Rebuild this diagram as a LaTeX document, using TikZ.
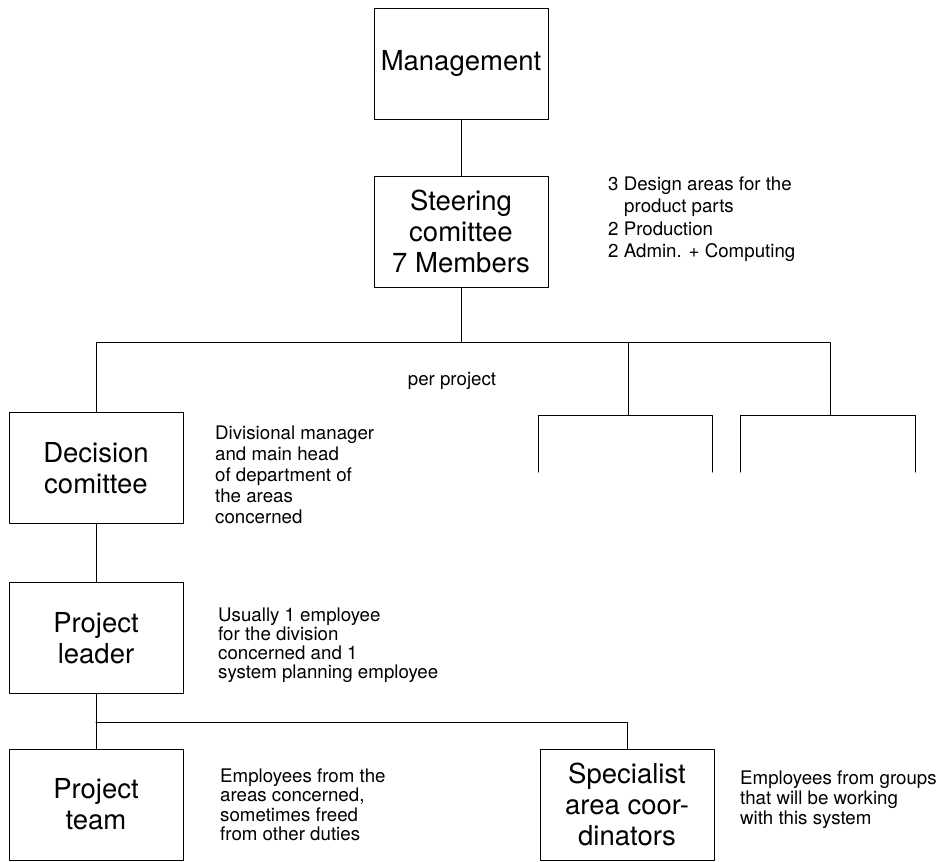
\documentclass[tikz,border=0pt]{standalone}
\usepackage{fontspec}
\setmainfont{TeX Gyre Heros}

\newcommand{\boxfont}{\fontsize{27.5}{31}\selectfont}
\newcommand{\notefont}{\fontsize{18.7}{20}\selectfont}

\tikzset{
  unit/.style={draw, line width=1pt, minimum width=174pt, minimum height=111pt,
    align=center, font=\boxfont},
  remark/.style={anchor=west, align=left, inner sep=0pt, font=\notefont},
  link/.style={line width=1pt},
}

\begin{document}
\begin{tikzpicture}[x=1pt, y=-1pt, line cap=round, line join=round]
    \useasboundingbox (0,0) rectangle (945,862);

    % Boxes of the hierarchy
    \node[unit] (mgmt)  at (461,63.5)  {Management};
    \node[unit] (steer) at (461,231.5) {Steering\\comittee\\7 Members};
    \node[unit] (dec)   at (96,468)    {Decision\\comittee};
    \node[unit] (lead)  at (96,638)    {Project\\leader};
    \node[unit] (team)  at (96,804.5)  {Project\\team};
    \node[unit] (spec)  at (627,804.5) {Specialist\\area coor-\\dinators};

    % Top of the tree
    \draw[link] (mgmt) -- (steer);

    % Bus to the project groups
    \coordinate (busL) at (96,342);
    \coordinate (busR) at (830,342);
    \coordinate (grpB) at (628,415);
    \coordinate (grpC) at (830,415);
    \draw[link] (steer) -- (steer |- busL);
    \draw[link] (dec) |- (busR) -- (grpC);
    \draw[link] (grpB) -- (grpB |- busL);
    \node[font=\notefont] (perproj) at (452,381) {per project};

    % Open brackets for the other projects
    \foreach \l/\r in {538/712, 740/915} {
        \draw[link] (\l,472) -- (\l,415) -- (\r,415) -- (\r,472);
    }

    % Project level
    \draw[link] (dec) -- (lead);
    \draw[link] (lead) -- (team);
    \coordinate (busD) at (96,722);
    \draw[link] (busD) -| (spec);

    % Notes beside the boxes
    \node[remark, font={\fontsize{18.7}{22.5}\selectfont}] (steernote) at (608,219)
        {3 Design areas for the\\\hspace*{16pt}product parts\\2 Production\\2 Admin. + Computing};
    \node[remark, font={\fontsize{18.7}{21}\selectfont}] (decnote) at (215,474.5)
        {Divisional manager\\and main head\\of department of\\the areas\\concerned};
    \node[remark, font={\fontsize{18.7}{19}\selectfont}] (leadnote) at (218,645)
        {Usually 1 employee\\for the division\\concerned and 1\\system planning employee};
    \node[remark, font={\fontsize{18.7}{19.5}\selectfont}] (teamnote) at (220,805)
        {Employees from the\\areas concerned,\\sometimes freed\\from other duties};
    \node[remark, font={\fontsize{18.7}{20}\selectfont}] (specnote) at (740,800)
        {Employees from groups\\that will be working\\with this system};

\end{tikzpicture}
\end{document}
